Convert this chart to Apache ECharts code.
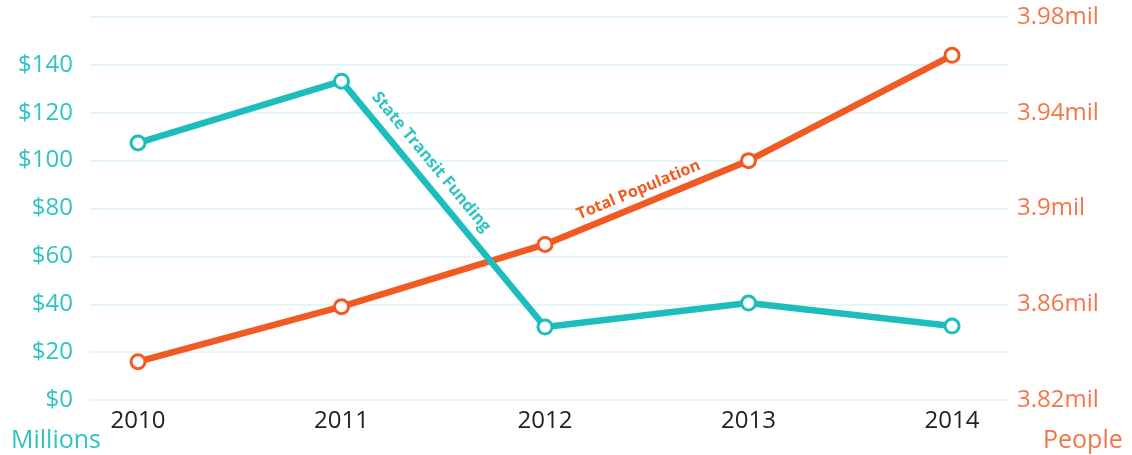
<!DOCTYPE html>
<html>
<head>
<meta charset="utf-8">
<script src="https://cdn.jsdelivr.net/npm/echarts@6/dist/echarts.min.js"></script>
<style>
html,body{margin:0;padding:0;background:#fff;}
#chart{width:1132px;height:455px;}
</style>
</head>
<body>
<div id="chart"></div>
<script>
const years = [2010, 2011, 2012, 2013, 2014];
const funding = [107.4, 133.2, 30.5, 40.5, 30.9];          // $ millions
const population = [3.836, 3.859, 3.885, 3.920, 3.964];   // millions of people
const fundingTicks = [0, 20, 40, 60, 80, 100, 120, 140];
const populationTicks = [3.82, 3.86, 3.90, 3.94, 3.98];
const fundingLabel = 'State Transit Funding';
const populationLabel = 'Total Population';

const TEAL = '#1dbdbd';
const TEAL_TXT = '#2fc3c3';
const ORANGE = '#f15a22';
const ORANGE_TXT = '#f3764a';
const FONT = '"Open Sans"';
const FS = 24;

const chart = echarts.init(document.getElementById('chart'));
chart.setOption({
  backgroundColor: '#fff',
  animation: false,
  title: [
    {text: 'Millions', left: 6, top: 423, textStyle: {color: TEAL_TXT, fontFamily: FONT, fontSize: 25, fontWeight: 'normal'}},
    {text: 'People', left: 1038, top: 423, textStyle: {color: ORANGE_TXT, fontFamily: FONT, fontSize: 25, fontWeight: 'normal'}}
  ],
  grid: {left: 90, right: 124, top: 17, bottom: 55},
  xAxis: {
    type: 'value',
    min: 2009.764,
    max: 2014.275,
    axisLine: {show: false},
    axisTick: {show: false},
    splitLine: {show: false},
    axisLabel: {
      customValues: years,
      formatter: v => String(Math.round(v)),
      color: '#222',
      fontFamily: FONT,
      fontSize: FS,
      margin: 9
    }
  },
  yAxis: [
    {
      type: 'value',
      min: 0, max: 160, interval: 20,
      axisLine: {show: false},
      axisTick: {show: false},
      splitLine: {lineStyle: {color: '#e5f6f6', width: 2}},
      axisLabel: {
        formatter: v => fundingTicks.includes(v) ? '$' + v : '',
        color: TEAL_TXT, fontFamily: FONT, fontSize: FS, margin: 17
      }
    },
    {
      type: 'value',
      min: 3.82, max: 3.98, interval: 0.04,
      axisLine: {show: false},
      axisTick: {show: false},
      splitLine: {show: false},
      axisLabel: {
        formatter: v => {
          const r = parseFloat(v.toFixed(2));
          return populationTicks.some(t => Math.abs(t - r) < 1e-6) ? r + 'mil' : '';
        },
        color: ORANGE_TXT, fontFamily: FONT, fontSize: FS, margin: 9
      }
    }
  ],
  series: [
    {
      name: fundingLabel,
      type: 'line',
      yAxisIndex: 0,
      data: years.map((y, i) => [y, funding[i]]),
      lineStyle: {color: TEAL, width: 6.5},
      itemStyle: {color: '#fff', borderColor: TEAL, borderWidth: 3},
      symbol: 'circle',
      symbolSize: 14,
      z: 3,
      markPoint: {
        symbol: 'circle', symbolSize: 0,
        data: [{coord: [2011.44, 99.4], value: fundingLabel}],
        label: {show: true, position: 'inside', formatter: fundingLabel, rotate: -50.3,
          color: TEAL_TXT, fontFamily: FONT, fontSize: 16.5, fontWeight: 'bold'}
      }
    },
    {
      name: populationLabel,
      type: 'line',
      yAxisIndex: 1,
      data: years.map((y, i) => [y, population[i]]),
      lineStyle: {color: ORANGE, width: 6.5},
      itemStyle: {color: '#fff', borderColor: ORANGE, borderWidth: 3},
      symbol: 'circle',
      symbolSize: 14,
      z: 2,
      markPoint: {
        symbol: 'circle', symbolSize: 0,
        data: [{coord: [2012.46, 3.9077], value: populationLabel}],
        label: {show: true, position: 'inside', formatter: populationLabel, rotate: 22.5,
          color: ORANGE, fontFamily: FONT, fontSize: 16, fontWeight: 'bold'}
      }
    }
  ]
});
</script>
</body>
</html>
